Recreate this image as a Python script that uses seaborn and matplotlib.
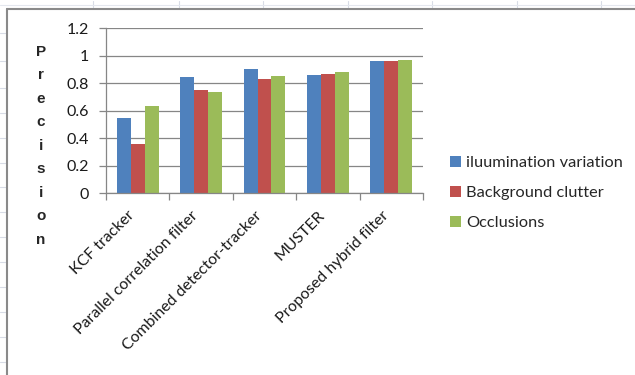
import matplotlib
matplotlib.use("Agg")
import matplotlib.pyplot as plt
from matplotlib.lines import Line2D
from matplotlib.patches import Patch
import seaborn as sns
import pandas as pd
import numpy as np

categories = ["KCF tracker", "Parallel correlation filter", "Combined detector-tracker",
              "MUSTER", "Proposed hybrid filter"]
series = ["iluumination variation", "Background clutter", "Occlusions"]
illum = [0.545, 0.843, 0.904, 0.860, 0.960]
clutter = [0.360, 0.749, 0.830, 0.868, 0.960]
occl = [0.633, 0.740, 0.856, 0.880, 0.967]
yticks = [0, 0.2, 0.4, 0.6, 0.8, 1.0, 1.2]
ytick_labels = ["0", "0.2", "0.4", "0.6", "0.8", "1", "1.2"]
colors = ["#4F81BD", "#C0504D", "#9BBB59"]

df = pd.DataFrame({
    "category": categories * 3,
    "series": [series[0]] * 5 + [series[1]] * 5 + [series[2]] * 5,
    "value": illum + clutter + occl,
})

sns.set_theme(style="white")
plt.rcParams['font.family'] = ['Lato', 'DejaVu Sans']

fig = plt.figure(figsize=(6.35, 3.75), dpi=100)
W, H = 635, 375

# background spreadsheet-ish decoration and chart frame
for x in [93, 179, 263, 348, 432, 517, 601]:
    fig.add_artist(Line2D([x / W, x / W], [1 - 1 / H, 1 - 8 / H], color="#d8dce6", lw=0.8))
fig.add_artist(Line2D([0, 1], [1 - 5 / H, 1 - 5 / H], color="#e4e7ee", lw=0.8))
for y in [33, 61, 88, 113, 138, 163, 187, 212, 237, 262, 287, 312, 337, 362]:
    fig.add_artist(Line2D([0, 6 / W], [1 - y / H, 1 - y / H], color="#d8dce6", lw=0.8))
fig.add_artist(Line2D([7 / W, 7 / W], [0, 1 - 9 / H], color="#8a8a8a", lw=1.5))
fig.add_artist(Line2D([7 / W, 1], [1 - 9 / H, 1 - 9 / H], color="#8a8a8a", lw=1.5))

ax = fig.add_axes([106 / W, 1 - 193.3 / H, (423 - 106) / W, (193.3 - 28.3) / H])
sns.barplot(data=df, x="category", y="value", hue="series", palette=colors,
            order=categories, hue_order=series, width=0.66, saturation=1,
            ax=ax, legend=False, edgecolor="none", linewidth=0)

ax.set_ylim(0, 1.2)
ax.set_xlim(-0.5, len(categories) - 0.5)
ax.set_yticks(yticks)
ax.set_yticklabels(ytick_labels, fontsize=11.5, color="#1a1a1a")
ax.yaxis.grid(True, color="#868686", lw=0.9)
ax.set_axisbelow(True)
for s in ["top", "right"]:
    ax.spines[s].set_visible(False)
for s in ["left", "bottom"]:
    ax.spines[s].set_color("#868686")
    ax.spines[s].set_linewidth(0.9)
ax.tick_params(axis="y", length=5, width=0.9, color="#868686", pad=7, left=True)
ax.set_xticks(range(len(categories)))
ax.set_xticklabels(categories, rotation=45, ha="right", va="top", fontsize=11.4, color="#1a1a1a")
ax.tick_params(axis="x", which="major", length=0, pad=11)
ax.set_xticks(np.arange(-0.5, len(categories), 1.0), minor=True)
ax.tick_params(axis="x", which="minor", length=5, width=0.9, color="#868686", bottom=True)
ax.set_xlabel("")
ax.set_ylabel("")

fig.text(41 / W, 1 - 145.7 / H, "\n".join("Precision"), ha="center", va="center",
         fontsize=11, fontweight="bold", family=["Liberation Sans"], linespacing=1.86)

handles = [Patch(facecolor=c, edgecolor="none") for c in colors]
fig.legend(handles, series, loc="center left", bbox_to_anchor=(450 / W, 1 - 193 / H),
           frameon=False, fontsize=11.8, handlelength=0.65, handleheight=0.65,
           handletextpad=0.35, labelspacing=0.95, borderaxespad=0, borderpad=0)

fig.savefig("out.png", dpi=100)
